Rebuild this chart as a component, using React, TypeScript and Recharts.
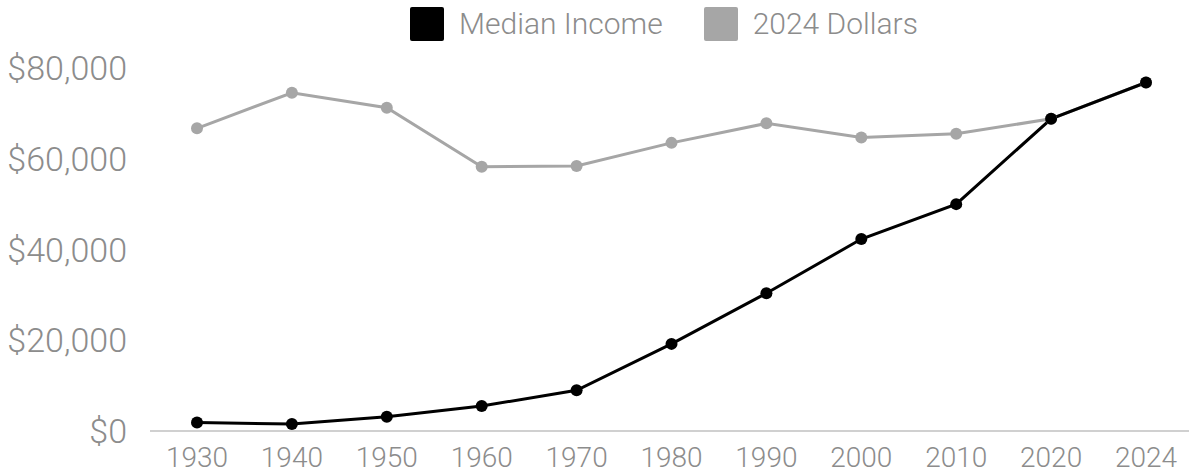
import React from 'react';
import { LineChart, Line, XAxis, YAxis, Legend } from 'recharts';

const years = ['1930', '1940', '1950', '1960', '1970', '1980', '1990', '2000', '2010', '2020', '2024'];
const medianIncome = [1850, 1550, 3150, 5500, 8970, 19200, 30350, 42300, 50000, 68800, 76800];
const dollars2024 = [66700, 74550, 71250, 58250, 58400, 63500, 67800, 64700, 65500, 68800, 76800];
const yTicks = [0, 20000, 40000, 60000, 80000];

const seriesNames = { income: 'Median Income', real: '2024 Dollars' };
const BLACK = '#000000';
const GRAY = '#a6a6a6';
const TEXT = '#8c8c8c';

const data = years.map((year, i) => ({
    year,
    income: medianIncome[i],
    real: dollars2024[i],
}));

const fmt = (v: number) => `$${v.toLocaleString('en-US')}`;

function LegendContent() {
    const items = [
        { name: seriesNames.income, color: BLACK },
        { name: seriesNames.real, color: GRAY },
    ];
    return (
        <div style={{ display: 'flex', alignItems: 'center', fontFamily: 'Roboto', fontWeight: 300 }}>
            {items.map((item, i) => (
                <div key={item.name} style={{ display: 'flex', alignItems: 'center', marginRight: i === 0 ? 41 : 0 }}>
                    <span style={{ width: 34, height: 34, background: item.color, display: 'inline-block', marginRight: 15, borderRadius: 2 }} />
                    <span style={{ fontSize: 30, color: TEXT, lineHeight: '34px' }}>{item.name}</span>
                </div>
            ))}
        </div>
    );
}

export default function App() {
    return (
        <div style={{ position: 'absolute', left: 0, top: 0, width: 1189, height: 475, overflow: 'hidden', background: '#fff', fontFamily: 'Roboto' }}>
            <LineChart width={1193} height={475} data={data} margin={{ top: 68, right: 0, bottom: 0, left: 0 }}>
                <XAxis
                    dataKey="year"
                    height={44}
                    padding={{ left: 47, right: 47 }}
                    tickLine={false}
                    tickSize={0}
                    tickMargin={16}
                    axisLine={{ stroke: '#d0d0d0', strokeWidth: 2 }}
                    tick={{ fill: TEXT, fontSize: 28, fontWeight: 300 }}
                    interval={0}
                />
                <YAxis
                    width={150}
                    domain={[0, 80000]}
                    ticks={yTicks}
                    tickFormatter={fmt}
                    axisLine={false}
                    tickLine={false}
                    tickSize={0}
                    tickMargin={23}
                    tick={{ fill: TEXT, fontSize: 34, fontWeight: 300 }}
                />
                <Legend
                    verticalAlign="middle"
                    layout="horizontal"
                    content={<LegendContent />}
                    wrapperStyle={{ top: 7, left: 410, width: 'auto' }}
                />
                <Line
                    dataKey="real"
                    name={seriesNames.real}
                    stroke={GRAY}
                    strokeWidth={3}
                    dot={{ r: 6, fill: GRAY, stroke: GRAY, strokeWidth: 0 }}
                    isAnimationActive={false}
                />
                <Line
                    dataKey="income"
                    name={seriesNames.income}
                    stroke={BLACK}
                    strokeWidth={3}
                    dot={{ r: 6, fill: BLACK, stroke: BLACK, strokeWidth: 0 }}
                    isAnimationActive={false}
                />
            </LineChart>
        </div>
    );
}
